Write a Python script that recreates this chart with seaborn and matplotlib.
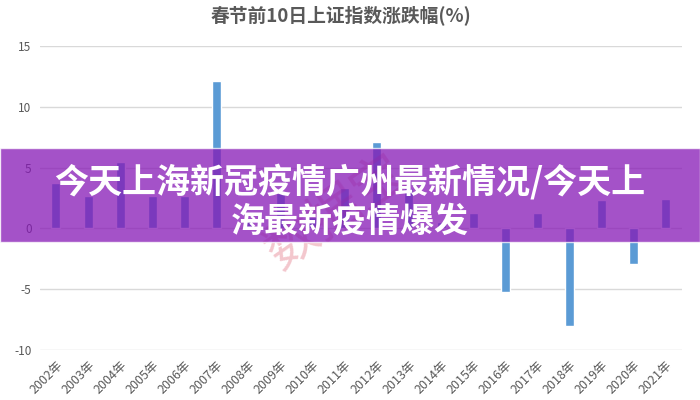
import matplotlib
matplotlib.use('Agg')
import matplotlib.pyplot as plt
import seaborn as sns
import pandas as pd
from matplotlib.patches import Rectangle

# data (2008, 2010, 2014 are hidden under the banner text: guessed)
years  = ['2002年', '2003年', '2004年', '2005年', '2006年', '2007年', '2008年',
          '2009年', '2010年', '2011年', '2012年', '2013年', '2014年', '2015年',
          '2016年', '2017年', '2018年', '2019年', '2020年', '2021年']
change = [3.7, 2.7, 5.5, 2.7, 2.7, 12.1, 0.7,
          2.9, 0.9, 3.3, 7.1, 3.3, 0.5, 1.3,
          -5.2, 1.3, -8.0, 2.3, -2.9, 2.4]
yticks = [-10, -5, 0, 5, 10, 15]

title  = '春节前10日上证指数涨跌幅(%)'
banner = '今天上海新冠疫情广州最新情况/今天上\n海最新疫情爆发'
stamp  = '数据宝'

df = pd.DataFrame({'year': years, 'change': change})

sns.set_style('white')
plt.rcParams['font.family'] = ['Noto Sans CJK SC', 'DejaVu Sans']

fig = plt.figure(figsize=(7, 4), dpi=100)
ax = fig.add_axes([0.057, 0.125, 0.917, 0.76])

sns.barplot(data=df, x='year', y='change', color='#5B9BD5', saturation=1,
            width=0.28, ax=ax, zorder=3)

ax.set_ylim(-10, 15)
ax.set_yticks(yticks)
ax.set_yticklabels([str(t) for t in yticks], color='#595959', fontsize=8.5)
ax.yaxis.grid(True, color='#D9D9D9', linewidth=1, zorder=0)
ax.set_axisbelow(True)
ax.tick_params(axis='both', length=0, pad=6)
for lbl in ax.get_xticklabels():
    lbl.set_rotation(45)
    lbl.set_ha('right')
    lbl.set_rotation_mode('anchor')
    lbl.set_color('#595959')
    lbl.set_fontsize(9)
ax.set_xlabel('')
ax.set_ylabel('')
sns.despine(ax=ax, left=True, bottom=True)

fig.text(0.487, 0.962, title, ha='center', va='center', fontsize=13.5,
         color='#595959', fontweight='bold')

# faint red stamp behind the banner
fig.text(0.48, 0.47, stamp, ha='center', va='center', fontsize=38,
         color='#D9435A', alpha=0.3, rotation=35)

# purple banner across the middle
fig.patches.append(Rectangle((0, 0.395), 1, 0.235, transform=fig.transFigure,
                             facecolor='#8618B6', alpha=0.75, zorder=5))
fig.text(0.5, 0.497, banner, ha='center', va='center', fontsize=24.5,
         color='white', fontweight='heavy', linespacing=1.15, zorder=6)

fig.savefig('out.png', dpi=100)
